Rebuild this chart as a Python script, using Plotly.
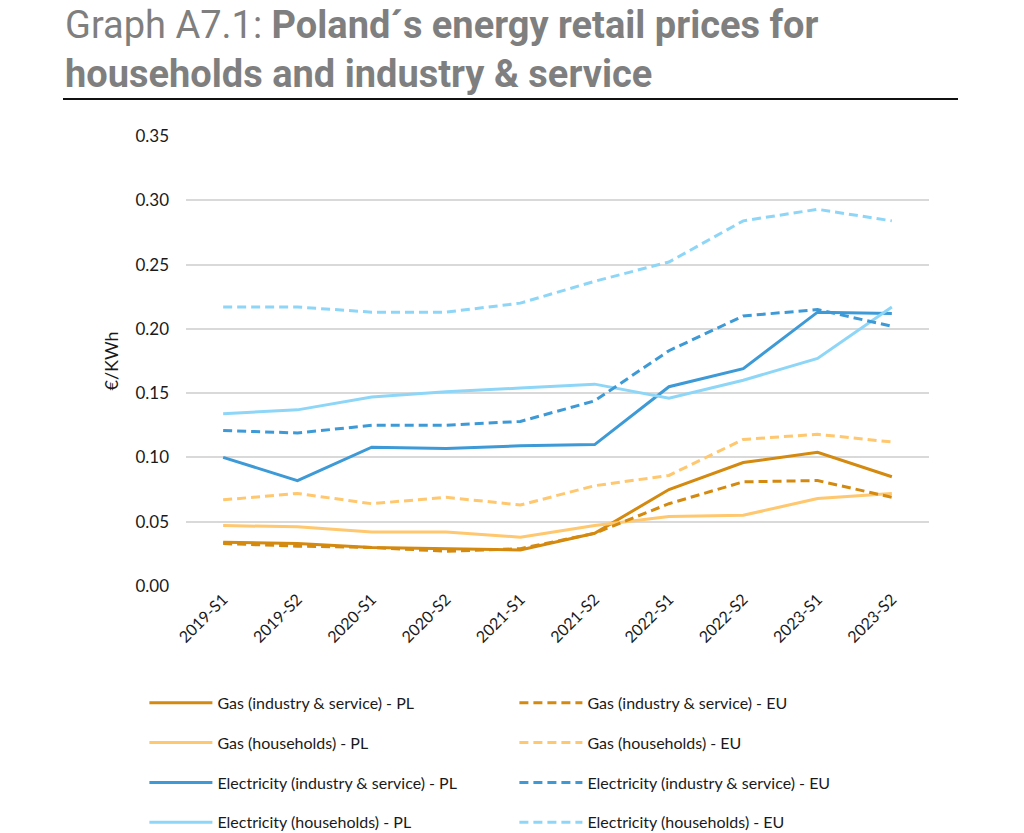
import plotly.graph_objects as go

periods = ["2019-S1", "2019-S2", "2020-S1", "2020-S2", "2021-S1",
           "2021-S2", "2022-S1", "2022-S2", "2023-S1", "2023-S2"]

gas_ind_pl = [0.034, 0.033, 0.030, 0.029, 0.028, 0.041, 0.075, 0.096, 0.104, 0.085]
gas_ind_eu = [0.033, 0.031, 0.030, 0.027, 0.029, 0.041, 0.064, 0.081, 0.082, 0.069]
gas_hh_pl = [0.047, 0.046, 0.042, 0.042, 0.038, 0.047, 0.054, 0.055, 0.068, 0.072]
gas_hh_eu = [0.067, 0.072, 0.064, 0.069, 0.063, 0.078, 0.086, 0.114, 0.118, 0.112]
el_ind_pl = [0.100, 0.082, 0.108, 0.107, 0.109, 0.110, 0.155, 0.169, 0.213, 0.212]
el_ind_eu = [0.121, 0.119, 0.125, 0.125, 0.128, 0.144, 0.183, 0.210, 0.215, 0.202]
el_hh_pl = [0.134, 0.137, 0.147, 0.151, 0.154, 0.157, 0.146, 0.160, 0.177, 0.217]
el_hh_eu = [0.217, 0.217, 0.213, 0.213, 0.220, 0.237, 0.252, 0.284, 0.293, 0.284]

C_GAS_IND = "#D4890F"
C_GAS_HH = "#FFC76E"
C_EL_IND = "#3D9AD6"
C_EL_HH = "#8ED6F7"

series = [
    ("Gas (industry & service) - PL", gas_ind_pl, C_GAS_IND, "solid", "legend"),
    ("Gas (households) - PL", gas_hh_pl, C_GAS_HH, "solid", "legend"),
    ("Electricity (industry & service) - PL", el_ind_pl, C_EL_IND, "solid", "legend"),
    ("Electricity (households) - PL", el_hh_pl, C_EL_HH, "solid", "legend"),
    ("Gas (industry & service) - EU", gas_ind_eu, C_GAS_IND, "9px,5px", "legend2"),
    ("Gas (households) - EU", gas_hh_eu, C_GAS_HH, "9px,5px", "legend2"),
    ("Electricity (industry & service) - EU", el_ind_eu, C_EL_IND, "9px,5px", "legend2"),
    ("Electricity (households) - EU", el_hh_eu, C_EL_HH, "9px,5px", "legend2"),
]

fig = go.Figure()
for name, vals, col, dash, leg in series:
    fig.add_trace(go.Scatter(
        x=periods, y=vals, mode="lines", name=name,
        line=dict(color=col, width=3, dash=dash),
        legend=leg, legendgroup=name,
    ))

FONT = "Lato, Open Sans, Liberation Sans, sans-serif"
TFONT = "Roboto, sans-serif"

legend_common = dict(
    orientation="v", traceorder="grouped", tracegroupgap=16,
    font=dict(family=FONT, size=16, color="#1a1a1a"),
    bgcolor="rgba(0,0,0,0)", yanchor="top", xanchor="left",
    itemwidth=63,
)

fig.update_layout(
    width=1024, height=833,
    margin=dict(l=186, r=95, t=136, b=247, autoexpand=False),
    paper_bgcolor="white", plot_bgcolor="white",
    font=dict(family=FONT, size=16, color="#1a1a1a"),
    legend=dict(x=-0.056, y=-0.222, **legend_common),
    legend2=dict(x=0.442, y=-0.222, **legend_common),
    xaxis=dict(
        type="category", range=[-0.5, 9.5], tickangle=-45,
        showgrid=False, showline=False, ticks="",
        tickfont=dict(family=FONT, size=16, color="#1a1a1a"),
    ),
    yaxis=dict(
        range=[0, 0.35], dtick=0.05, tickformat=".2f",
        showgrid=True, gridcolor="#D9D9D9", gridwidth=1.5,
        zeroline=False, showline=False, ticks="",
        ticklabelstandoff=16,
        tickfont=dict(family=FONT, size=17, color="#1a1a1a"),
        title=dict(text="€/KWh", standoff=12,
                   font=dict(family=FONT, size=18, color="#1a1a1a")),
    ),
    showlegend=True,
)

fig.add_annotation(
    xref="paper", yref="paper", x=(63 - 186) / 743, y=(586 - 1) / 450,
    xanchor="left", yanchor="top", align="left", showarrow=False,
    text="Graph A7.1: <b>Poland´s energy retail prices for</b><br><b>households and industry &amp; service</b>",
    font=dict(family=TFONT, size=38, color="#7F7F7F"),
)
fig.add_shape(
    type="line", xref="paper", yref="paper",
    x0=(63 - 186) / 743, x1=(958 - 186) / 743,
    y0=(586 - 99) / 450, y1=(586 - 99) / 450,
    line=dict(color="#111111", width=2),
)

fig.write_html("out.html")
